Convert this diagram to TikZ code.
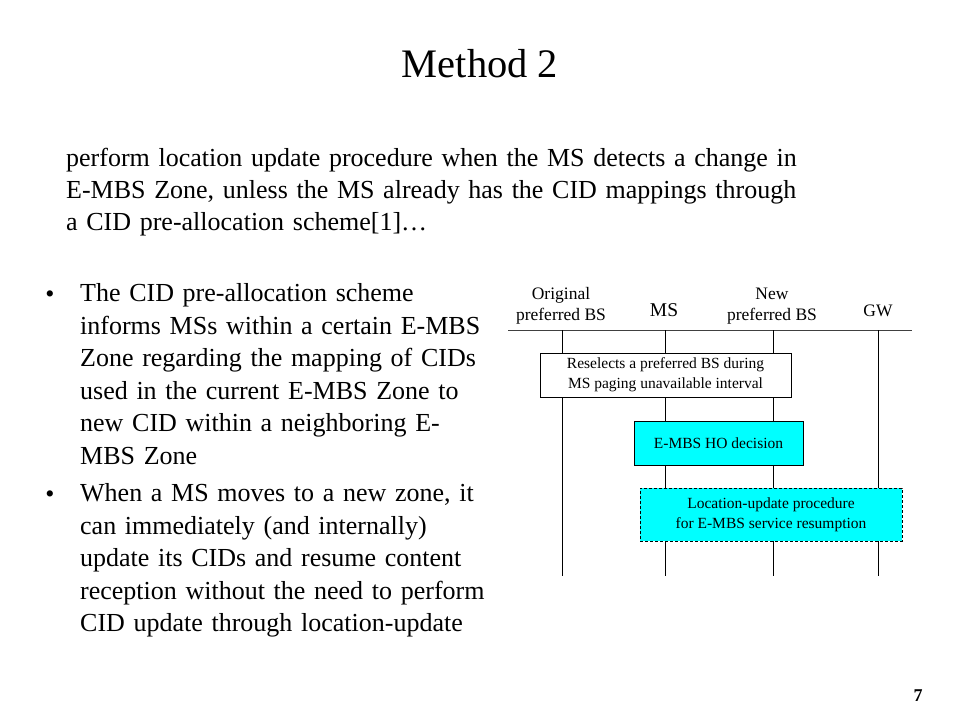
\documentclass[tikz,border=0pt]{standalone}
\usepackage{fontspec}
\setmainfont{Liberation Serif}
\definecolor{boxcyan}{RGB}{0,255,255}
\begin{document}
\begin{tikzpicture}[x=1pt,y=-1pt,
  heading/.style={anchor=base,inner sep=0pt,font=\fontsize{40.5}{48}\selectfont},
  body/.style={anchor=base west,inner sep=0pt,text width=760pt,align=left,font=\fontsize{26}{31.7}\selectfont},
  item/.style={anchor=base west,inner sep=0pt,text width=440pt,align=left,font=\fontsize{26}{32.5}\selectfont},
  dot/.style={anchor=base,inner sep=0pt,font=\fontsize{26}{28}\selectfont},
  actor/.style={inner sep=0pt,align=center,font=\fontsize{17.5}{21}\selectfont},
  stepbox/.style={draw,line width=0.9pt,inner sep=0pt,align=center,font=\fontsize{15.5}{20}\selectfont},
  lifeline/.style={line width=0.9pt}]
  \useasboundingbox (0,0) rectangle (960,720);

  % title and text
  \node[heading] (title) at (480,77) {Method 2};
  \node[body] (intro) at (66,166.7) {perform location update procedure when the MS detects a change in\\
    E-MBS Zone, unless the MS already has the CID mappings through\\
    a CID pre-allocation scheme[1]…};

  \node[dot] (dot1) at (50,302) {•};
  \node[item] (itemone) at (80,301.7) {The CID pre-allocation scheme\\
    informs MSs within a certain E-MBS\\
    Zone regarding the mapping of CIDs\\
    used in the current E-MBS Zone to\\
    new CID within a neighboring E-\\
    MBS Zone};
  \node[dot] (dot2) at (50,502) {•};
  \node[item] (itemtwo) at (80,501.7) {When a MS moves to a new zone, it\\
    can immediately (and internally)\\
    update its CIDs and resume content\\
    reception without the need to perform\\
    CID update through location-update};

  % actors
  \node[actor,anchor=south] (obs) at (561,324) {Original\\preferred BS};
  \node[actor,anchor=base,font=\fontsize{19.5}{21}\selectfont] (ms) at (664,316) {MS};
  \node[actor,anchor=base,font=\fontsize{17.5}{21}\selectfont] (gw) at (878,316) {GW};
  \node[actor,anchor=south] (nbs) at (772,324) {New\\preferred BS};

  \coordinate (rule west) at (508,330);
  \coordinate (rule east) at (912,330);
  \draw[black!75,line width=0.9pt] (rule west) -- (rule east);

  % lifelines
  \foreach \n/\x in {obsl/562,msl/665,nbsl/773,gwl/878}{
    \coordinate (\n top) at (\x,330);
    \coordinate (\n bot) at (\x,576);
    \draw[lifeline] (\n top) -- (\n bot);
  }

  % steps
  \node[stepbox,fill=white,minimum width=251pt,minimum height=44pt] (reselect) at (665.5,375)
    {Reselects a preferred BS during\\MS paging unavailable interval};
  \node[stepbox,fill=boxcyan,minimum width=169pt,minimum height=44pt] (decide) at (718.5,443)
    {E-MBS HO decision};
  \node[stepbox,fill=boxcyan,dash pattern=on 3pt off 2pt,minimum width=262pt,minimum height=53pt] (locupd) at (771,514.5)
    {Location-update procedure\\for E-MBS service resumption};

  \node[anchor=base,inner sep=0pt,font=\fontsize{18}{20}\selectfont\bfseries] (page) at (918,701) {7};
\end{tikzpicture}
\end{document}
